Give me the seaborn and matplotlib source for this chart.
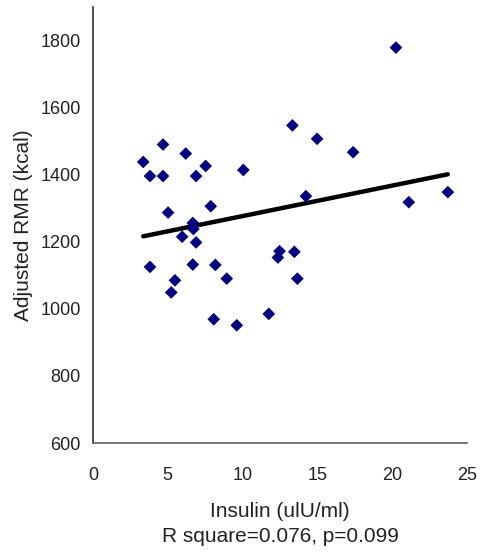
import matplotlib
matplotlib.use("Agg")
import matplotlib.pyplot as plt
import seaborn as sns
import numpy as np
import pandas as pd

insulin = [3.36, 3.81, 3.81, 4.68, 4.68, 5.02, 5.23, 5.48, 6.20, 5.96,
           6.67, 6.71, 6.89, 6.67, 6.89, 7.53, 7.87, 8.18, 8.07, 8.94,
           9.61, 10.05, 11.75, 12.36, 12.47, 13.46, 13.33, 13.66, 14.23,
           14.98, 17.39, 20.25, 21.11, 23.72]
rmr = [1438, 1396, 1125, 1490, 1396, 1287, 1049, 1085, 1463, 1215,
       1256, 1238, 1198, 1132, 1396, 1426, 1306, 1131, 969, 1090,
       951, 1414, 985, 1153, 1172, 1170, 1547, 1090, 1336,
       1507, 1467, 1779, 1318, 1348]

x_ticks = [0, 5, 10, 15, 20, 25]
y_ticks = [600, 800, 1000, 1200, 1400, 1600, 1800]
x_label = "Insulin (ulU/ml)"
y_label = "Adjusted RMR (kcal)"
stats_text = "R square=0.076, p=0.099"

df = pd.DataFrame({"insulin": insulin, "rmr": rmr})

sns.set_style("white")
plt.rcParams["font.family"] = ["Liberation Sans", "DejaVu Sans"]

fig = plt.figure(figsize=(4.8, 5.58), dpi=100)
ax = fig.add_axes([93/480, 1 - 443/558, (467-93)/480, (443-7)/558])

sns.regplot(data=df, x="insulin", y="rmr", ax=ax, ci=None,
            marker="D",
            scatter_kws=dict(s=42, color="#000080", edgecolors="none",
                             alpha=1.0, zorder=3),
            line_kws=dict(color="black", linewidth=3.2, zorder=2))

ax.set_xlim(0, 25)
ax.set_ylim(600, 1900)
ax.set_xticks(x_ticks)
ax.set_yticks(y_ticks)
ax.tick_params(axis="both", direction="in", length=5, width=1, color="#303030",
               labelsize=13, labelcolor="#222222")
ax.tick_params(axis="x", pad=17)
ax.tick_params(axis="y", pad=9)
for side in ["top", "right"]:
    ax.spines[side].set_visible(False)
ax.spines["left"].set_color("#303030")
ax.spines["bottom"].set_color("#606060")
ax.spines["left"].set_linewidth(1.2)
ax.spines["bottom"].set_linewidth(1.2)

ax.set_xlabel("")
ax.set_ylabel(y_label, fontsize=15, color="#222222")
ax.yaxis.set_label_coords(-0.16, 0.5)

fig.text(280/480, 1 - 517/558, x_label, ha="center", va="baseline",
         fontsize=15, color="#222222")
fig.text(280/480, 1 - 542/558, stats_text, ha="center", va="baseline",
         fontsize=15, color="#222222")

fig.savefig("out.png", dpi=100)
